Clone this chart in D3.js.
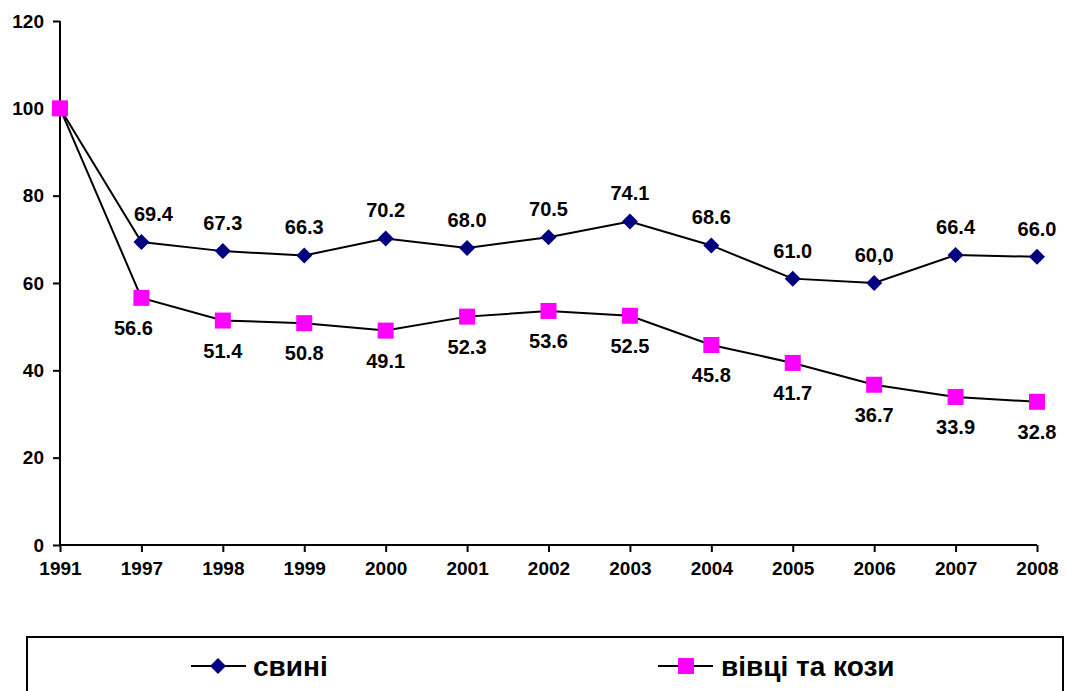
<!DOCTYPE html>
<html>
<head>
<meta charset="utf-8">
<script src="https://cdn.jsdelivr.net/npm/d3@7"></script>
<style>
  body { margin: 0; background: #fff; }
  svg text { font-family: "Liberation Sans", Arial, sans-serif; font-weight: bold; }
</style>
</head>
<body>
<svg id="chart" width="1066" height="691"></svg>
<script>
var years = ['1991', '1997', '1998', '1999', '2000', '2001', '2002', '2003', '2004', '2005', '2006', '2007', '2008'];
var pigs = [100, 69.4, 67.3, 66.3, 70.2, 68.0, 70.5, 74.1, 68.6, 61.0, 60.0, 66.4, 66.0];
var pigLabels = ['', '69.4', '67.3', '66.3', '70.2', '68.0', '70.5', '74.1', '68.6', '61.0', '60,0', '66.4', '66.0'];
var sheep = [100, 56.6, 51.4, 50.8, 49.1, 52.3, 53.6, 52.5, 45.8, 41.7, 36.7, 33.9, 32.8];
var sheepLabels = ['', '56.6', '51.4', '50.8', '49.1', '52.3', '53.6', '52.5', '45.8', '41.7', '36.7', '33.9', '32.8'];
var yTicks = [0, 20, 40, 60, 80, 100, 120];
var seriesNames = ['свині', 'вівці та кози'];

var svg = d3.select('#chart');

var x = d3.scalePoint().domain(years).range([60, 1037]);
var y = d3.scaleLinear().domain([0, 120]).range([545, 21]);

// axes
var yAxis = svg.append('g')
    .attr('transform', 'translate(60,0)')
    .call(d3.axisLeft(y).tickValues(yTicks).tickSize(7).tickPadding(9));
var xAxis = svg.append('g')
    .attr('transform', 'translate(0,545)')
    .call(d3.axisBottom(x).tickSize(7).tickPadding(10));

[yAxis, xAxis].forEach(function(ax) {
    ax.select('.domain').attr('stroke', '#000').attr('stroke-width', 2);
    ax.selectAll('.tick line').attr('stroke', '#000').attr('stroke-width', 2);
    ax.selectAll('.tick text').attr('fill', '#000').style('font-size', '19px')
        .style('font-family', '"Liberation Sans", Arial, sans-serif').style('font-weight', 'bold');
});
xAxis.select('.domain').attr('d', 'M60,0H1037');
yAxis.select('.domain').attr('d', 'M0,21V545');

var line = d3.line()
    .x(function(d, i) { return x(years[i]); })
    .y(function(d) { return y(d); });

svg.append('path').datum(pigs).attr('d', line)
    .attr('fill', 'none').attr('stroke', '#000').attr('stroke-width', 2);
svg.append('path').datum(sheep).attr('d', line)
    .attr('fill', 'none').attr('stroke', '#000').attr('stroke-width', 2);

var diamond = 'M0,-8L8,0L0,8L-8,0Z';

svg.append('g').selectAll('path').data(pigs).enter().append('path')
    .attr('d', diamond)
    .attr('transform', function(d, i) { return 'translate(' + x(years[i]) + ',' + y(d) + ')'; })
    .attr('fill', '#000080');

svg.append('g').selectAll('rect').data(sheep).enter().append('rect')
    .attr('x', function(d, i) { return x(years[i]) - 8; })
    .attr('y', function(d) { return y(d) - 8; })
    .attr('width', 16).attr('height', 16)
    .attr('fill', '#ff00ff');

// data labels
svg.append('g').selectAll('text').data(pigs).enter().append('text')
    .attr('x', function(d, i) { return x(years[i]) + (i === 1 ? 12 : 0); })
    .attr('y', function(d) { return y(d) - 21; })
    .attr('text-anchor', 'middle')
    .style('font-size', '20px')
    .text(function(d, i) { return pigLabels[i]; });

svg.append('g').selectAll('text').data(sheep).enter().append('text')
    .attr('x', function(d, i) { return x(years[i]) - (i === 1 ? 8 : 0); })
    .attr('y', function(d) { return y(d) + 37; })
    .attr('text-anchor', 'middle')
    .style('font-size', '20px')
    .text(function(d, i) { return sheepLabels[i]; });

// legend
var legend = svg.append('g');
legend.append('rect')
    .attr('x', 27).attr('y', 637).attr('width', 1036).attr('height', 70)
    .attr('fill', 'none').attr('stroke', '#000').attr('stroke-width', 2);

var leg1 = legend.append('g').attr('transform', 'translate(218,666)');
leg1.append('line').attr('x1', -27).attr('x2', 28).attr('stroke', '#000').attr('stroke-width', 2);
leg1.append('path').attr('d', diamond).attr('fill', '#000080');
leg1.append('text').attr('x', 35).attr('y', 10).style('font-size', '28px').text(seriesNames[0]);

var leg2 = legend.append('g').attr('transform', 'translate(686,666)');
leg2.append('line').attr('x1', -28).attr('x2', 27).attr('stroke', '#000').attr('stroke-width', 2);
leg2.append('rect').attr('x', -8).attr('y', -8).attr('width', 16).attr('height', 16).attr('fill', '#ff00ff');
leg2.append('text').attr('x', 35).attr('y', 10).style('font-size', '28px').text(seriesNames[1]);
</script>
</body>
</html>
